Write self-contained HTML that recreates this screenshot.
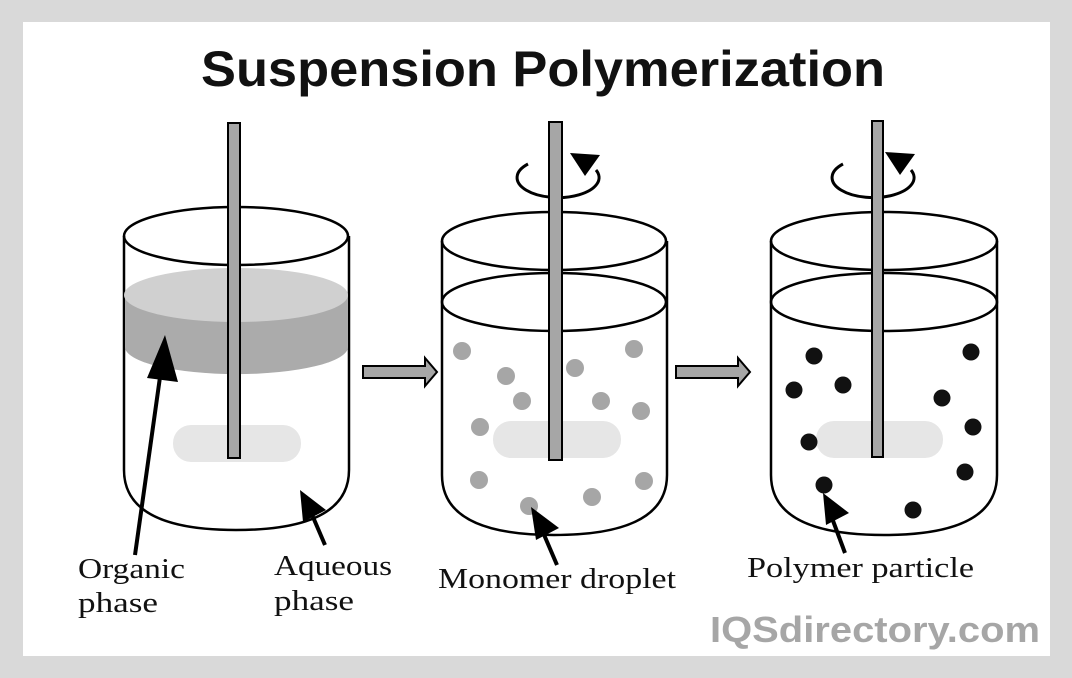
<!DOCTYPE html>
<html><head><meta charset="utf-8"><style>
html,body{margin:0;padding:0;background:#d9d9d9;}
svg{display:block;}
.lbl{font-family:"Liberation Serif",serif;font-size:28px;fill:#111;}
</style></head><body>
<svg width="1072" height="678" viewBox="0 0 1072 678" xmlns="http://www.w3.org/2000/svg">
<rect x="0" y="0" width="1072" height="678" fill="#d9d9d9"/>
<rect x="23" y="22" width="1027" height="634" fill="#fff"/>
<text x="543" y="86" text-anchor="middle" font-family="Liberation Sans, sans-serif" font-weight="bold" font-size="50" textLength="684" lengthAdjust="spacingAndGlyphs" fill="#111">Suspension Polymerization</text>
<g stroke="#000" stroke-width="2.5" fill="none">
<path d="M124,236 V470 Q124,530 236,530 Q349,530 349,470 V236" fill="#fff"/>
<path d="M125,295 V347 A111,27 0 0 0 348,347 V295 Z" fill="#ababab" stroke="none"/>
<ellipse cx="236" cy="295" rx="112" ry="27" fill="#d0d0d0" stroke="none"/>
<ellipse cx="236" cy="236" rx="112" ry="29"/>
<rect x="173" y="425" width="128" height="37" rx="18" fill="#e6e6e6" stroke="none"/>
<rect x="228" y="123" width="12" height="335" fill="#a6a6a6" stroke-width="2"/>
<path d="M442,241 V475 Q442,535 554,535 Q667,535 667,475 V241" fill="#fff"/>
<ellipse cx="554" cy="241" rx="112" ry="29"/>
<ellipse cx="554" cy="302" rx="112" ry="29"/>
<rect x="493" y="421" width="128" height="37" rx="18" fill="#e6e6e6" stroke="none"/>
<path d="M771,241 V475 Q771,535 884,535 Q997,535 997,475 V241" fill="#fff"/>
<ellipse cx="884" cy="241" rx="113" ry="29"/>
<ellipse cx="884" cy="302" rx="113" ry="29"/>
<rect x="816" y="421" width="127" height="37" rx="18" fill="#e6e6e6" stroke="none"/>
</g>
<g fill="#a6a6a6">
<circle cx="462" cy="351" r="9"/><circle cx="634" cy="349" r="9"/><circle cx="506" cy="376" r="9"/><circle cx="575" cy="368" r="9"/><circle cx="522" cy="401" r="9"/><circle cx="601" cy="401" r="9"/><circle cx="641" cy="411" r="9"/><circle cx="480" cy="427" r="9"/><circle cx="479" cy="480" r="9"/><circle cx="644" cy="481" r="9"/><circle cx="592" cy="497" r="9"/><circle cx="529" cy="506" r="9"/>
</g>
<g fill="#111">
<circle cx="814" cy="356" r="8.5"/><circle cx="971" cy="352" r="8.5"/><circle cx="794" cy="390" r="8.5"/><circle cx="843" cy="385" r="8.5"/><circle cx="942" cy="398" r="8.5"/><circle cx="973" cy="427" r="8.5"/><circle cx="809" cy="442" r="8.5"/><circle cx="965" cy="472" r="8.5"/><circle cx="824" cy="485" r="8.5"/><circle cx="913" cy="510" r="8.5"/>
</g>
<g stroke="#000" stroke-width="3" fill="none">
<path d="M528,164 A41,20 0 1 0 596,170"/>
<path d="M843,164 A41,20 0 1 0 911,170"/>
</g>
<g stroke="#000" stroke-width="2" fill="#a6a6a6">
<rect x="549" y="122" width="13" height="338"/>
<rect x="872" y="121" width="11" height="336"/>
<path d="M363,366 H425 V358 L437,372 L425,386 V378 H363 Z"/>
<path d="M676,366 H738 V358 L750,372 L738,386 V378 H676 Z"/>
</g>
<path d="M570,153 L600,155 L585,176 Z" fill="#000"/>
<path d="M885,152 L915,154 L900,175 Z" fill="#000"/>
<g stroke="#000" stroke-width="4">
<line x1="135" y1="555" x2="161" y2="370"/>
<line x1="325" y1="545" x2="310" y2="510"/>
<line x1="557" y1="565" x2="542" y2="530"/>
<line x1="845" y1="553" x2="832" y2="518"/>
</g>
<g fill="#000">
<path d="M165,335 L178,382 L147,378 Z"/>
<path d="M300,490 L326,510 L303,522 Z"/>
<path d="M531,507 L559,528 L536,540 Z"/>
<path d="M823,493 L849,513 L826,525 Z"/>
</g>
<text class="lbl" x="78" y="578" textLength="107" lengthAdjust="spacingAndGlyphs">Organic</text>
<text class="lbl" x="78" y="612" textLength="80" lengthAdjust="spacingAndGlyphs">phase</text>
<text class="lbl" x="274" y="575" textLength="118" lengthAdjust="spacingAndGlyphs">Aqueous</text>
<text class="lbl" x="274" y="610" textLength="80" lengthAdjust="spacingAndGlyphs">phase</text>
<text class="lbl" x="438" y="588" textLength="238" lengthAdjust="spacingAndGlyphs">Monomer droplet</text>
<text class="lbl" x="747" y="577" textLength="227" lengthAdjust="spacingAndGlyphs">Polymer particle</text>
<text x="710" y="642" font-family="Liberation Sans, sans-serif" font-weight="bold" font-size="36" fill="#a6a6a6" textLength="330" lengthAdjust="spacingAndGlyphs">IQSdirectory.com</text>
</svg>
</body></html>
